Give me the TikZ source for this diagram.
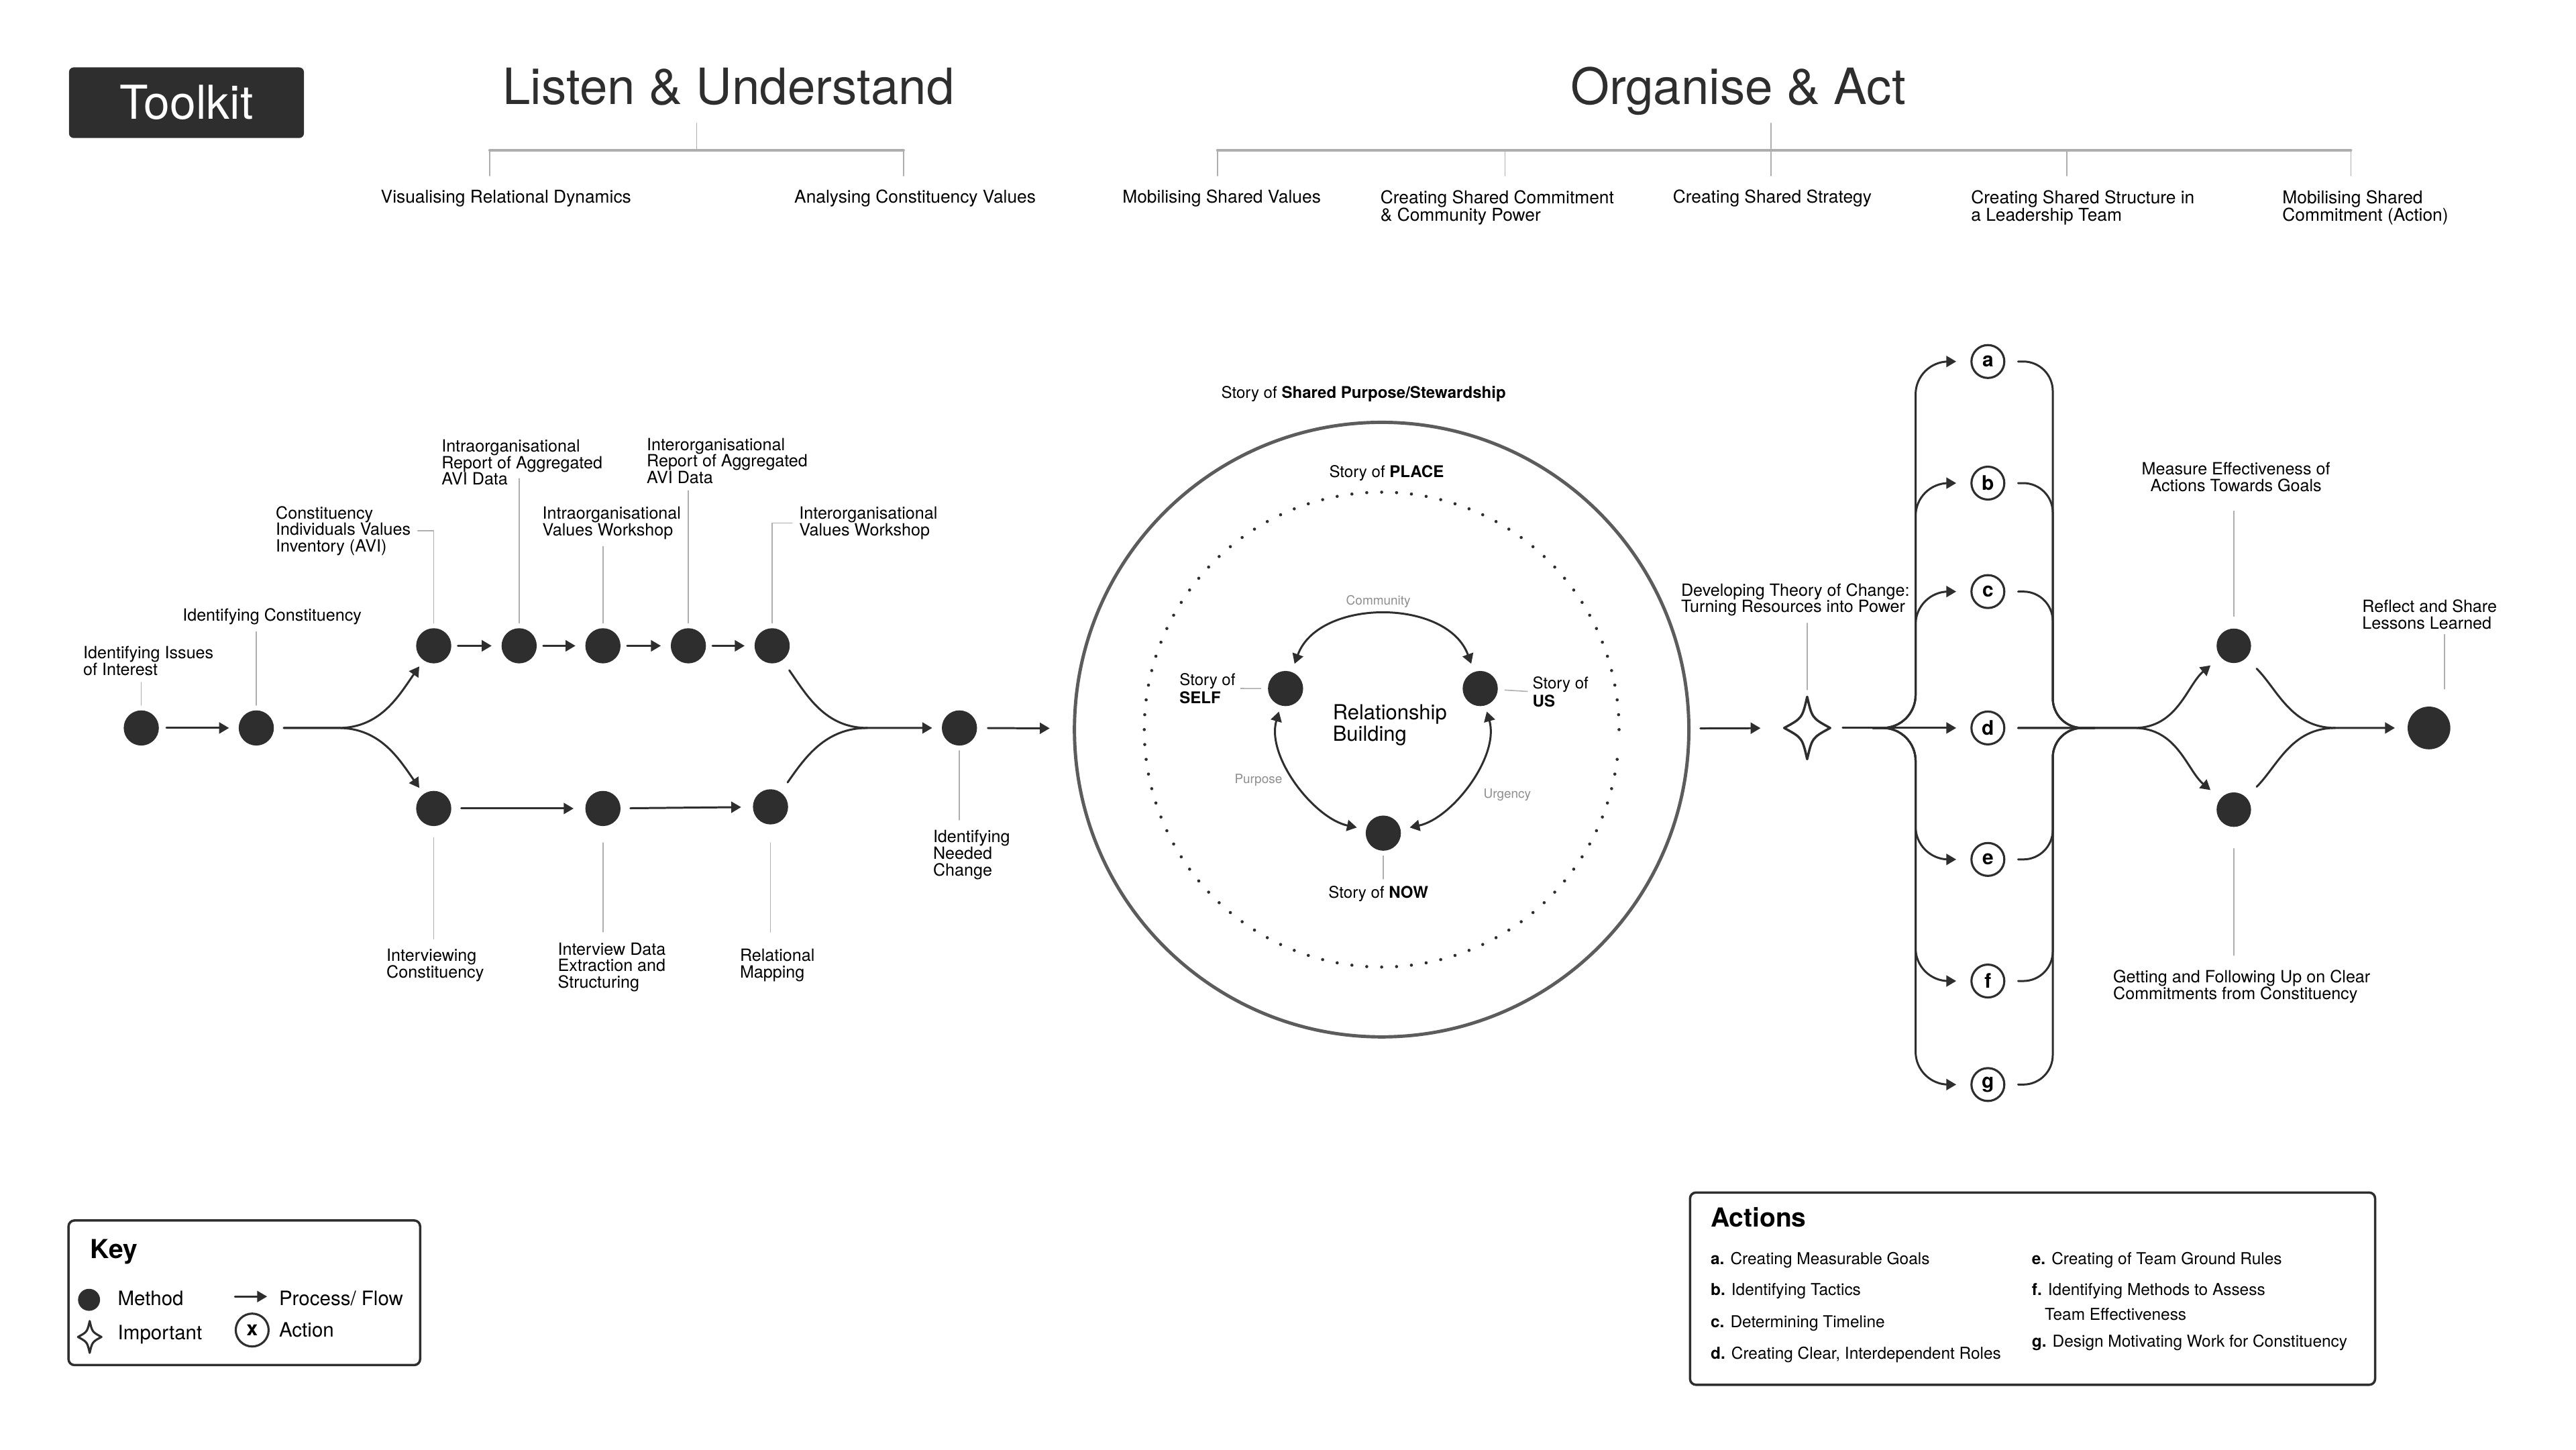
\documentclass[tikz,border=0pt]{standalone}
\usepackage{fontspec}
\setmainfont{TeX Gyre Heros}
\usetikzlibrary{arrows.meta}
\definecolor{ink}{HTML}{2E2E2E}
\definecolor{ring}{HTML}{5C5C5C}
\definecolor{lead}{HTML}{AEAEAE}
\definecolor{soft}{HTML}{8E8E8E}
\tikzset{sparkle/.pic={\draw[ink] (0,19) .. controls (3,6) .. (14,0) .. controls (3,-6) .. (0,-19)
  .. controls (-3,-6) .. (-14,0) .. controls (-3,6) .. (0,19) -- cycle;}}
\begin{document}
\begin{tikzpicture}[x=0.02449cm, y=0.02449cm, >={Triangle[length=4.2pt,width=4.7pt]},
  line join=round, line cap=round,
  meth/.style={circle,fill=ink,inner sep=0,minimum size=0.524cm},
  act/.style={circle,draw=ink,line width=0.9pt,inner sep=0,minimum size=0.49cm,font=\fontsize{8.5}{8.5}\selectfont\bfseries},
  flow/.style={draw=ink,line width=0.85pt},
  leader/.style={draw=lead,line width=0.45pt,shorten <=2pt,shorten >=2.8pt},
  lab/.style={inner sep=0,align=left,font=\fontsize{7.15}{7}\selectfont},
  toplab/.style={inner sep=0,align=left,font=\fontsize{7.5}{7.4}\selectfont},
  storylab/.style={inner sep=0,align=left,font=\fontsize{6.85}{6.4}\selectfont},
  hint/.style={inner sep=0,anchor=base,text=soft,font=\fontsize{5.4}{6}\selectfont},
  actitem/.style={inner sep=0,anchor=base west,font=\fontsize{6.95}{8}\selectfont},
  keytxt/.style={inner sep=0,anchor=base west,font=\fontsize{8.4}{9}\selectfont},
  heading/.style={inner sep=0,anchor=base west,font=\fontsize{11.1}{12}\selectfont\bfseries},
  headline/.style={inner sep=0,anchor=base,text=ink,font=\fontsize{21.2}{23}\selectfont},
  brk/.style={draw=lead,line width=0.45pt},
  brkbar/.style={draw=lead,line width=1.1pt},
  panel/.style={draw=ink,line width=1pt,rounded corners=2.5pt,inner sep=0}]
\useasboundingbox (0,0) rectangle (1568,-882);

% top
\node[fill=ink,rounded corners=2pt,minimum width=3.502cm,minimum height=1.053cm,text=white,font=\fontsize{19.8}{21}\selectfont] (toolkit) at (113.5,-62.5) {Toolkit};
\node[headline] (listen) at (443.5,-63.5) {Listen \& Understand};
\node[headline] (organise) at (1058,-63.5) {Organise \& Act};
\draw[brk] (424,-75) -- (424,-91.5);
\draw[brkbar] (298,-91.5) -- (550,-91.5);
\foreach \x in {298,550} \draw[brk] (\x,-91.5) -- (\x,-107);
\draw[brk] (1078,-75) -- (1078,-91.5);
\draw[brkbar] (741,-91.5) -- (1431,-91.5);
\foreach \x in {741,916,1078,1258,1431} \draw[brk] (\x,-91.5) -- (\x,-107);
\node[toplab,anchor=base] (vis) at (308,-123.5) {Visualising Relational Dynamics};
\node[toplab,anchor=base] (ana) at (557,-123.5) {Analysing Constituency Values};
\node[toplab,anchor=base west] (mob) at (683,-123.5) {Mobilising Shared Values};
\node[toplab,anchor=north west] (com) at (840,-115.6) {Creating Shared Commitment\\\& Community Power};
\node[toplab,anchor=base west] (strat) at (1018,-123.5) {Creating Shared Strategy};
\node[toplab,anchor=north west] (struc) at (1199.5,-115.6) {Creating Shared Structure in\\a Leadership Team};
\node[toplab,anchor=north west] (mobc) at (1389,-115.6) {Mobilising Shared\\Commitment (Action)};

% listen & understand
\node[meth] (issues) at (86,-443) {};
\node[meth] (constit) at (156,-443) {};
\node[meth] (avi) at (264,-393) {};
\node[meth] (intrarep) at (316,-393) {};
\node[meth] (intraws) at (367,-393) {};
\node[meth] (interrep) at (419,-393) {};
\node[meth] (interws) at (470,-393) {};
\node[meth] (intv) at (264,-492) {};
\node[meth] (extract) at (367,-492) {};
\node[meth] (relmap) at (469,-491) {};
\node[meth] (needed) at (584,-443) {};
\coordinate (fork1) at (206,-443);
\coordinate (join1) at (528,-443);
\draw[flow,->,shorten <=3pt,shorten >=3.9pt] (issues) -- (constit);
\foreach \a/\b in {avi/intrarep,intrarep/intraws,intraws/interrep,interrep/interws}
  \draw[flow,->,shorten <=2.6pt,shorten >=4pt] (\a) -- (\b);
\foreach \a/\b in {intv/extract,extract/relmap}
  \draw[flow,->,shorten <=4pt,shorten >=4.8pt] (\a) -- (\b);
\draw[flow,->,shorten <=4pt,shorten >=3pt] (constit) -- (fork1) to[out=0,in=235] (avi);
\draw[flow,->,shorten <=4pt,shorten >=3pt] (constit) -- (fork1) to[out=0,in=125] (intv);
\draw[flow,->,shorten <=5pt,shorten >=3.9pt] (interws) to[out=-55,in=180] (join1) -- (needed);
\draw[flow,shorten <=5pt] (relmap) to[out=55,in=180] (join1);

\node[lab,anchor=north west] (issueslab) at (50.4,-393) {Identifying Issues\\of Interest};
\node[lab,anchor=base west] (constitlab) at (110.9,-377.9) {Identifying Constituency};
\node[lab,anchor=north west] (avilab) at (167.6,-307.8) {Constituency\\Individuals Values\\Inventory (AVI)};
\node[lab,anchor=north west] (intrareplab) at (268.5,-267.2) {Intraorganisational\\Report of Aggregated\\AVI Data};
\node[lab,anchor=north west] (intrawslab) at (329.9,-308.2) {Intraorganisational\\Values Workshop};
\node[lab,anchor=north west] (interreplab) at (393.4,-266.3) {Interorganisational\\Report of Aggregated\\AVI Data};
\node[lab,anchor=north west] (interwslab) at (486.2,-308.2) {Interorganisational\\Values Workshop};
\node[lab,anchor=north west] (intvlab) at (235,-577.2) {Interviewing\\Constituency};
\node[lab,anchor=north west] (extractlab) at (339.3,-573.3) {Interview Data\\Extraction and\\Structuring};
\node[lab,anchor=north west] (relmaplab) at (450.1,-577.2) {Relational\\Mapping};
\node[lab,anchor=north west] (neededlab) at (567.7,-505) {Identifying\\Needed\\Change};
\draw[leader] (issues) -- (issues |- issueslab.south);
\draw[leader] (constit) -- (constit |- constitlab.south);
\draw[leader] (avi) |- (avilab.east);
\draw[leader,shorten >=-3pt] (intrarep) -- (intrarep |- intrareplab.south);
\draw[leader] (intraws) -- (intraws |- intrawslab.south);
\draw[leader] (interrep) -- (interrep |- interreplab.south);
\draw[leader] (interws) |- (interwslab.west);
\draw[leader,shorten <=4.7pt,shorten >=4pt] (intv) -- (intv |- intvlab.north);
\draw[leader,shorten <=6.9pt,shorten >=4.3pt] (extract) -- (extract |- extractlab.north);
\draw[leader,shorten <=7.6pt,shorten >=7pt] (relmap) -- (relmap |- relmaplab.north);
\draw[leader,shorten <=2pt,shorten >=4.2pt] (needed) -- (needed |- neededlab.north);

% relationship building
\node[circle,draw=ring,line width=1.4pt,minimum size=9.159cm,inner sep=0] (story) at (841,-444) {};
\foreach \a in {0,3.6,...,356.4} \fill[ink] (story.center) ++(\a:144.5) circle (0.95);
\node[meth] (self) at (782.5,-419) {};
\node[meth] (us) at (901,-419) {};
\node[meth] (now) at (842,-507) {};
\draw[flow,<->,shorten <=3.5pt,shorten >=3.5pt] (self) to[out=70,in=110,looseness=1.1] (us);
\draw[flow,<->,shorten <=2.5pt,shorten >=3.8pt] (self) to[out=254,in=168,looseness=0.9] (now);
\draw[flow,<->,shorten <=2.5pt,shorten >=3.8pt] (us) to[out=-74,in=12,looseness=0.9] (now);
\node[storylab,anchor=base] (sharedlab) at (830,-242.5) {Story of \textbf{Shared Purpose/Stewardship}};
\node[storylab,anchor=base] (placelab) at (844,-290.5) {Story of \textbf{PLACE}};
\node[storylab,anchor=north west] (selflab) at (717.7,-409.5) {Story of\\\textbf{SELF}};
\node[storylab,anchor=north west] (uslab) at (932.6,-411.5) {Story of\\\textbf{US}};
\node[storylab,anchor=base] (nowlab) at (839,-546.5) {Story of \textbf{NOW}};
\node[hint] (commlab) at (839,-368) {Community};
\node[hint] (purplab) at (766,-476.8) {Purpose};
\node[hint] (urglab) at (917.5,-485.8) {Urgency};
\node[inner sep=0,align=left,anchor=north west,font=\fontsize{8.8}{8.1}\selectfont] (rb) at (811,-428.3) {Relationship\\Building};
\draw[leader] (selflab.east) -- (self);
\draw[leader] (uslab.west) -- (us);
\draw[leader] (now) -- (now |- nowlab.north);
\draw[flow,->,shorten <=4.4pt,shorten >=9.8pt] (needed) -- (story);

% organise & act
\node[minimum width=0.70cm,minimum height=0.916cm,inner sep=0] (toc) at (1100,-443) {};
\pic[line width=1pt] at (toc) {sparkle};
\coordinate (fork2) at (1140,-443);
\coordinate (bus1) at (1166,-443);
\coordinate (bus2) at (1249.5,-443);
\coordinate (join2) at (1275,-443);
\coordinate (split) at (1299,-443);
\foreach \n/\y in {a/220,b/294,c/360,d/443,e/523,f/597,g/660}
  \node[act] (\n) at (1210,-\y) {\n};
\node[meth,minimum size=0.514cm] (measure) at (1359.7,-393) {};
\node[meth,minimum size=0.514cm] (commit) at (1359.7,-492.7) {};
\node[meth,minimum size=0.637cm] (reflect) at (1478.5,-443) {};
\coordinate (join3) at (1421.5,-443);
\draw[flow,->,shorten <=4.2pt,shorten >=9.6pt] (story) -- (toc);
\draw[flow,->,shorten <=4.9pt,shorten >=6pt] (toc) -- (fork2) -- (d);
\foreach \n in {a,b,c,e,f,g} {
  \draw[flow,->,rounded corners=0.49cm,shorten >=6pt] (fork2) -| (bus1 |- \n) -- (\n);
  \draw[flow,rounded corners=0.44cm,shorten <=5.4pt] (\n) -- (bus2 |- \n) |- (join2);
}
\draw[flow,->,shorten <=5.4pt,shorten >=5.4pt] (d) -- (split) to[out=0,in=220] (measure);
\draw[flow,->,shorten <=5.4pt,shorten >=5.4pt] (d) -- (split) to[out=0,in=140] (commit);
\draw[flow,->,shorten <=6.2pt,shorten >=5.2pt] (measure) to[out=-45,in=180] (join3) -- (reflect);
\draw[flow,shorten <=6.2pt] (commit) to[out=45,in=180] (join3);

\node[lab,anchor=north west] (toclab) at (1023,-354.7) {Developing Theory of Change:\\Turning Resources into Power};
\node[lab,anchor=north,align=center] (measlab) at (1361,-281.2) {Measure Effectiveness of\\Actions Towards Goals};
\node[lab,anchor=north west] (commitlab) at (1286,-590) {Getting and Following Up on Clear\\Commitments from Constituency};
\node[lab,anchor=north west] (reflab) at (1437.6,-364.8) {Reflect and Share\\Lessons Learned};
\draw[leader,shorten <=3pt] (toc) -- (toc |- toclab.south);
\draw[leader,shorten <=5pt,shorten >=8pt] (measure) -- (measure |- measlab.south);
\draw[leader,shorten <=9pt,shorten >=6pt] (commit) -- (commit |- commitlab.north);
\draw[leader,shorten >=10pt] (reflab.south -| reflect.north east) -- (reflect.north east);

% key
\node[panel,minimum width=5.241cm,minimum height=2.155cm,anchor=north west] (keybox) at (41,-742) {};
\node[heading] (keyhead) at (54.8,-765.8) {Key};
\node[meth,minimum size=0.328cm] (keymeth) at (54.2,-791) {};
\node[keytxt] (keymethlab) at (71.4,-794.4) {Method};
\node[minimum width=0.367cm,minimum height=0.468cm,inner sep=0] (keyimp) at (54.6,-813.6) {};
\pic[scale=0.51,line width=0.9pt] at (keyimp) {sparkle};
\node[keytxt] (keyimplab) at (71.4,-815.4) {Important};
\coordinate (keyfrom) at (143,-789);
\coordinate (keyto) at (162.6,-789);
\draw[flow,->,line width=0.8pt] (keyfrom) -- (keyto);
\node[keytxt] (keyflowlab) at (169.6,-794.4) {Process/ Flow};
\node[act,minimum size=0.49cm] (keyact) at (153.5,-809.4) {x};
\node[keytxt] (keyactlab) at (169.6,-813.4) {Action};

% actions
\node[panel,minimum width=10.212cm,minimum height=2.865cm,anchor=north west] (actbox) at (1028,-725) {};
\node[heading] (acthead) at (1041,-746.7) {Actions};
\node[actitem] (acta) at (1041,-769.3) {\textbf{a.} Creating Measurable Goals};
\node[actitem] (actb) at (1041,-788.4) {\textbf{b.} Identifying Tactics};
\node[actitem] (actc) at (1041,-807.9) {\textbf{c.} Determining Timeline};
\node[actitem] (actd) at (1041,-827.1) {\textbf{d.} Creating Clear, Interdependent Roles};
\node[actitem] (acte) at (1236.5,-769.3) {\textbf{e.} Creating of Team Ground Rules};
\node[actitem] (actf) at (1236.5,-788.4) {\textbf{f.} Identifying Methods to Assess};
\node[actitem] (actff) at (1244.3,-803.5) {Team Effectiveness};
\node[actitem] (actg) at (1236.5,-819.7) {\textbf{g.} Design Motivating Work for Constituency};
\end{tikzpicture}
\end{document}
